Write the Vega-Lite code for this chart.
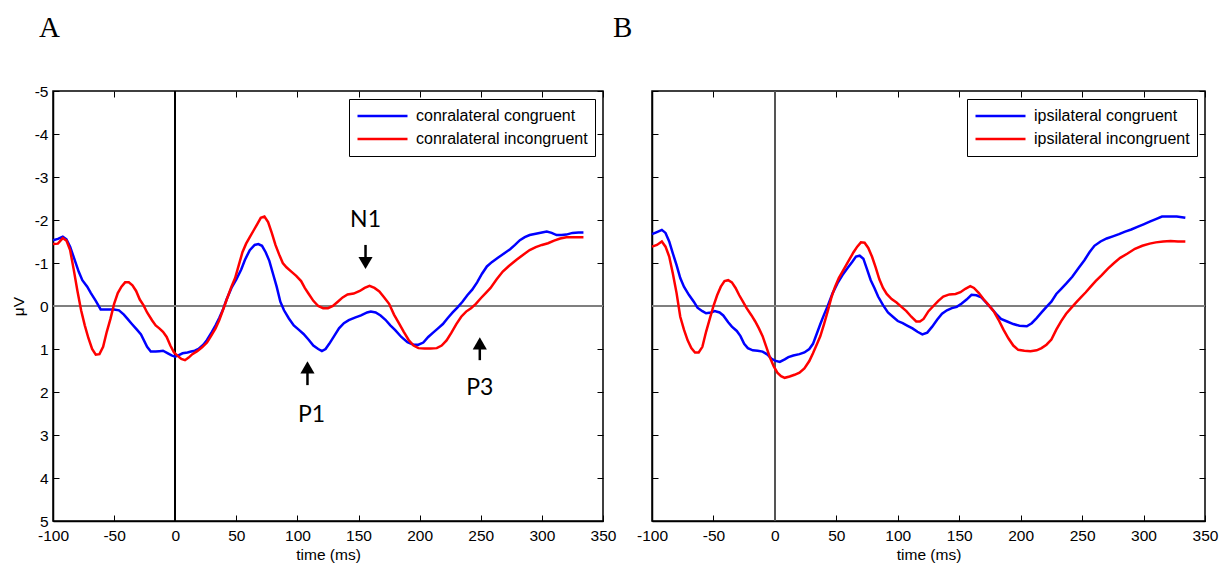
{
"$schema":"https://vega.github.io/schema/vega-lite/v6.json",
"padding":{"left":10,"top":12,"right":0,"bottom":0},
"bounds":"flush",
"spacing":49,
"config":{
 "font":"Liberation Sans",
 "view":{"stroke":"black","strokeWidth":1.5},
 "axis":{"grid":false,"domainColor":"black","domainWidth":1.5,"tickColor":"black","tickSize":-6,"tickWidth":1,"labelColor":"black","labelFont":"Liberation Sans","labelFontSize":15.5,"labelFlush":false,"labelOverlap":false,"titleFont":"Liberation Sans","titleFontSize":15.5,"titleFontWeight":"normal","titleColor":"black"}
},
"resolve":{"scale":{"color":"independent"},"legend":{"color":"independent"}},
"datasets":{
"A":[
{"c":"conralateral congruent","t":-100,"v":-1.53},{"c":"conralateral congruent","t":-96,"v":-1.56},{"c":"conralateral congruent","t":-92,"v":-1.61},{"c":"conralateral congruent","t":-89,"v":-1.55},{"c":"conralateral congruent","t":-86,"v":-1.38},{"c":"conralateral congruent","t":-82,"v":-1.05},{"c":"conralateral congruent","t":-79,"v":-0.8},{"c":"conralateral congruent","t":-76,"v":-0.6},{"c":"conralateral congruent","t":-72,"v":-0.45},{"c":"conralateral congruent","t":-69,"v":-0.3},{"c":"conralateral congruent","t":-65,"v":-0.12},{"c":"conralateral congruent","t":-61,"v":0.08},{"c":"conralateral congruent","t":-55,"v":0.08},{"c":"conralateral congruent","t":-50,"v":0.08},{"c":"conralateral congruent","t":-46,"v":0.1},{"c":"conralateral congruent","t":-42,"v":0.2},{"c":"conralateral congruent","t":-39,"v":0.3},{"c":"conralateral congruent","t":-36,"v":0.4},{"c":"conralateral congruent","t":-31,"v":0.56},{"c":"conralateral congruent","t":-28,"v":0.66},{"c":"conralateral congruent","t":-23,"v":0.95},{"c":"conralateral congruent","t":-20,"v":1.06},{"c":"conralateral congruent","t":-16,"v":1.06},{"c":"conralateral congruent","t":-13,"v":1.05},{"c":"conralateral congruent","t":-10,"v":1.04},{"c":"conralateral congruent","t":-6,"v":1.1},{"c":"conralateral congruent","t":-3,"v":1.15},{"c":"conralateral congruent","t":0,"v":1.18},{"c":"conralateral congruent","t":3,"v":1.14},{"c":"conralateral congruent","t":6,"v":1.1},{"c":"conralateral congruent","t":10,"v":1.08},{"c":"conralateral congruent","t":13,"v":1.06},{"c":"conralateral congruent","t":16,"v":1.04},{"c":"conralateral congruent","t":19,"v":1.0},{"c":"conralateral congruent","t":23,"v":0.9},{"c":"conralateral congruent","t":26,"v":0.79},{"c":"conralateral congruent","t":30,"v":0.6},{"c":"conralateral congruent","t":33,"v":0.45},{"c":"conralateral congruent","t":36,"v":0.28},{"c":"conralateral congruent","t":39,"v":0.09},{"c":"conralateral congruent","t":42,"v":-0.15},{"c":"conralateral congruent","t":46,"v":-0.42},{"c":"conralateral congruent","t":50,"v":-0.62},{"c":"conralateral congruent","t":54,"v":-0.85},{"c":"conralateral congruent","t":57,"v":-1.07},{"c":"conralateral congruent","t":61,"v":-1.3},{"c":"conralateral congruent","t":65,"v":-1.42},{"c":"conralateral congruent","t":68,"v":-1.44},{"c":"conralateral congruent","t":71,"v":-1.4},{"c":"conralateral congruent","t":74,"v":-1.25},{"c":"conralateral congruent","t":77,"v":-1.05},{"c":"conralateral congruent","t":80,"v":-0.75},{"c":"conralateral congruent","t":83,"v":-0.45},{"c":"conralateral congruent","t":86,"v":-0.1},{"c":"conralateral congruent","t":89,"v":0.1},{"c":"conralateral congruent","t":93,"v":0.29},{"c":"conralateral congruent","t":97,"v":0.45},{"c":"conralateral congruent","t":101,"v":0.55},{"c":"conralateral congruent","t":105,"v":0.65},{"c":"conralateral congruent","t":109,"v":0.78},{"c":"conralateral congruent","t":113,"v":0.92},{"c":"conralateral congruent","t":117,"v":1.0},{"c":"conralateral congruent","t":120,"v":1.05},{"c":"conralateral congruent","t":123,"v":1.0},{"c":"conralateral congruent","t":126,"v":0.88},{"c":"conralateral congruent","t":130,"v":0.7},{"c":"conralateral congruent","t":134,"v":0.52},{"c":"conralateral congruent","t":138,"v":0.4},{"c":"conralateral congruent","t":142,"v":0.33},{"c":"conralateral congruent","t":147,"v":0.27},{"c":"conralateral congruent","t":152,"v":0.22},{"c":"conralateral congruent","t":157,"v":0.15},{"c":"conralateral congruent","t":160,"v":0.13},{"c":"conralateral congruent","t":164,"v":0.15},{"c":"conralateral congruent","t":168,"v":0.22},{"c":"conralateral congruent","t":172,"v":0.32},{"c":"conralateral congruent","t":176,"v":0.45},{"c":"conralateral congruent","t":180,"v":0.56},{"c":"conralateral congruent","t":185,"v":0.72},{"c":"conralateral congruent","t":190,"v":0.84},{"c":"conralateral congruent","t":195,"v":0.9},{"c":"conralateral congruent","t":199,"v":0.9},{"c":"conralateral congruent","t":203,"v":0.85},{"c":"conralateral congruent","t":207,"v":0.72},{"c":"conralateral congruent","t":211,"v":0.62},{"c":"conralateral congruent","t":215,"v":0.52},{"c":"conralateral congruent","t":219,"v":0.42},{"c":"conralateral congruent","t":223,"v":0.28},{"c":"conralateral congruent","t":227,"v":0.15},{"c":"conralateral congruent","t":231,"v":0.03},{"c":"conralateral congruent","t":235,"v":-0.1},{"c":"conralateral congruent","t":239,"v":-0.25},{"c":"conralateral congruent","t":243,"v":-0.38},{"c":"conralateral congruent","t":247,"v":-0.55},{"c":"conralateral congruent","t":251,"v":-0.75},{"c":"conralateral congruent","t":255,"v":-0.92},{"c":"conralateral congruent","t":259,"v":-1.02},{"c":"conralateral congruent","t":264,"v":-1.12},{"c":"conralateral congruent","t":269,"v":-1.22},{"c":"conralateral congruent","t":274,"v":-1.32},{"c":"conralateral congruent","t":278,"v":-1.42},{"c":"conralateral congruent","t":282,"v":-1.53},{"c":"conralateral congruent","t":286,"v":-1.6},{"c":"conralateral congruent","t":290,"v":-1.65},{"c":"conralateral congruent","t":295,"v":-1.68},{"c":"conralateral congruent","t":300,"v":-1.71},{"c":"conralateral congruent","t":304,"v":-1.73},{"c":"conralateral congruent","t":308,"v":-1.7},{"c":"conralateral congruent","t":312,"v":-1.65},{"c":"conralateral congruent","t":316,"v":-1.65},{"c":"conralateral congruent","t":320,"v":-1.66},{"c":"conralateral congruent","t":325,"v":-1.7},{"c":"conralateral congruent","t":330,"v":-1.71},{"c":"conralateral congruent","t":334,"v":-1.71},
{"c":"conralateral incongruent","t":-100,"v":-1.44},{"c":"conralateral incongruent","t":-96,"v":-1.45},{"c":"conralateral incongruent","t":-92,"v":-1.58},{"c":"conralateral incongruent","t":-89,"v":-1.52},{"c":"conralateral incongruent","t":-86,"v":-1.3},{"c":"conralateral incongruent","t":-83,"v":-0.84},{"c":"conralateral incongruent","t":-80,"v":-0.35},{"c":"conralateral incongruent","t":-77,"v":0.1},{"c":"conralateral incongruent","t":-74,"v":0.45},{"c":"conralateral incongruent","t":-71,"v":0.75},{"c":"conralateral incongruent","t":-68,"v":1.0},{"c":"conralateral incongruent","t":-65,"v":1.13},{"c":"conralateral incongruent","t":-62,"v":1.12},{"c":"conralateral incongruent","t":-59,"v":0.95},{"c":"conralateral incongruent","t":-56,"v":0.6},{"c":"conralateral incongruent","t":-53,"v":0.3},{"c":"conralateral incongruent","t":-50,"v":-0.05},{"c":"conralateral incongruent","t":-47,"v":-0.3},{"c":"conralateral incongruent","t":-44,"v":-0.45},{"c":"conralateral incongruent","t":-41,"v":-0.55},{"c":"conralateral incongruent","t":-38,"v":-0.55},{"c":"conralateral incongruent","t":-35,"v":-0.48},{"c":"conralateral incongruent","t":-32,"v":-0.35},{"c":"conralateral incongruent","t":-29,"v":-0.15},{"c":"conralateral incongruent","t":-26,"v":-0.02},{"c":"conralateral incongruent","t":-23,"v":0.15},{"c":"conralateral incongruent","t":-19,"v":0.33},{"c":"conralateral incongruent","t":-16,"v":0.45},{"c":"conralateral incongruent","t":-13,"v":0.52},{"c":"conralateral incongruent","t":-10,"v":0.6},{"c":"conralateral incongruent","t":-7,"v":0.72},{"c":"conralateral incongruent","t":-4,"v":0.92},{"c":"conralateral incongruent","t":-1,"v":1.08},{"c":"conralateral incongruent","t":2,"v":1.16},{"c":"conralateral incongruent","t":5,"v":1.23},{"c":"conralateral incongruent","t":8,"v":1.26},{"c":"conralateral incongruent","t":11,"v":1.2},{"c":"conralateral incongruent","t":14,"v":1.12},{"c":"conralateral incongruent","t":18,"v":1.05},{"c":"conralateral incongruent","t":22,"v":0.96},{"c":"conralateral incongruent","t":26,"v":0.85},{"c":"conralateral incongruent","t":29,"v":0.71},{"c":"conralateral incongruent","t":33,"v":0.52},{"c":"conralateral incongruent","t":36,"v":0.33},{"c":"conralateral incongruent","t":39,"v":0.1},{"c":"conralateral incongruent","t":42,"v":-0.14},{"c":"conralateral incongruent","t":46,"v":-0.45},{"c":"conralateral incongruent","t":49,"v":-0.65},{"c":"conralateral incongruent","t":52,"v":-0.95},{"c":"conralateral incongruent","t":55,"v":-1.25},{"c":"conralateral incongruent","t":58,"v":-1.45},{"c":"conralateral incongruent","t":61,"v":-1.6},{"c":"conralateral incongruent","t":64,"v":-1.75},{"c":"conralateral incongruent","t":67,"v":-1.9},{"c":"conralateral incongruent","t":70,"v":-2.05},{"c":"conralateral incongruent","t":73,"v":-2.08},{"c":"conralateral incongruent","t":76,"v":-1.95},{"c":"conralateral incongruent","t":79,"v":-1.7},{"c":"conralateral incongruent","t":82,"v":-1.42},{"c":"conralateral incongruent","t":85,"v":-1.2},{"c":"conralateral incongruent","t":88,"v":-1.0},{"c":"conralateral incongruent","t":91,"v":-0.9},{"c":"conralateral incongruent","t":95,"v":-0.8},{"c":"conralateral incongruent","t":99,"v":-0.7},{"c":"conralateral incongruent","t":103,"v":-0.58},{"c":"conralateral incongruent","t":106,"v":-0.42},{"c":"conralateral incongruent","t":109,"v":-0.29},{"c":"conralateral incongruent","t":113,"v":-0.12},{"c":"conralateral incongruent","t":117,"v":0.0},{"c":"conralateral incongruent","t":121,"v":0.05},{"c":"conralateral incongruent","t":125,"v":0.05},{"c":"conralateral incongruent","t":129,"v":0.0},{"c":"conralateral incongruent","t":133,"v":-0.1},{"c":"conralateral incongruent","t":137,"v":-0.2},{"c":"conralateral incongruent","t":141,"v":-0.27},{"c":"conralateral incongruent","t":146,"v":-0.29},{"c":"conralateral incongruent","t":151,"v":-0.35},{"c":"conralateral incongruent","t":155,"v":-0.42},{"c":"conralateral incongruent","t":159,"v":-0.47},{"c":"conralateral incongruent","t":163,"v":-0.42},{"c":"conralateral incongruent","t":167,"v":-0.34},{"c":"conralateral incongruent","t":171,"v":-0.2},{"c":"conralateral incongruent","t":175,"v":-0.05},{"c":"conralateral incongruent","t":179,"v":0.2},{"c":"conralateral incongruent","t":183,"v":0.4},{"c":"conralateral incongruent","t":187,"v":0.6},{"c":"conralateral incongruent","t":191,"v":0.79},{"c":"conralateral incongruent","t":195,"v":0.92},{"c":"conralateral incongruent","t":199,"v":0.98},{"c":"conralateral incongruent","t":204,"v":0.99},{"c":"conralateral incongruent","t":209,"v":0.99},{"c":"conralateral incongruent","t":214,"v":0.98},{"c":"conralateral incongruent","t":218,"v":0.92},{"c":"conralateral incongruent","t":222,"v":0.8},{"c":"conralateral incongruent","t":226,"v":0.62},{"c":"conralateral incongruent","t":230,"v":0.42},{"c":"conralateral incongruent","t":234,"v":0.25},{"c":"conralateral incongruent","t":238,"v":0.13},{"c":"conralateral incongruent","t":242,"v":0.05},{"c":"conralateral incongruent","t":246,"v":-0.05},{"c":"conralateral incongruent","t":250,"v":-0.18},{"c":"conralateral incongruent","t":254,"v":-0.3},{"c":"conralateral incongruent","t":258,"v":-0.42},{"c":"conralateral incongruent","t":263,"v":-0.62},{"c":"conralateral incongruent","t":268,"v":-0.8},{"c":"conralateral incongruent","t":273,"v":-0.93},{"c":"conralateral incongruent","t":279,"v":-1.07},{"c":"conralateral incongruent","t":285,"v":-1.2},{"c":"conralateral incongruent","t":290,"v":-1.3},{"c":"conralateral incongruent","t":295,"v":-1.37},{"c":"conralateral incongruent","t":300,"v":-1.42},{"c":"conralateral incongruent","t":305,"v":-1.46},{"c":"conralateral incongruent","t":310,"v":-1.52},{"c":"conralateral incongruent","t":315,"v":-1.57},{"c":"conralateral incongruent","t":320,"v":-1.6},{"c":"conralateral incongruent","t":326,"v":-1.6},{"c":"conralateral incongruent","t":334,"v":-1.6}
],
"B":[
{"c":"ipsilateral congruent","t":-100,"v":-1.67},{"c":"ipsilateral congruent","t":-96,"v":-1.72},{"c":"ipsilateral congruent","t":-92,"v":-1.77},{"c":"ipsilateral congruent","t":-89,"v":-1.7},{"c":"ipsilateral congruent","t":-86,"v":-1.5},{"c":"ipsilateral congruent","t":-83,"v":-1.22},{"c":"ipsilateral congruent","t":-80,"v":-0.95},{"c":"ipsilateral congruent","t":-77,"v":-0.65},{"c":"ipsilateral congruent","t":-74,"v":-0.45},{"c":"ipsilateral congruent","t":-70,"v":-0.26},{"c":"ipsilateral congruent","t":-66,"v":-0.1},{"c":"ipsilateral congruent","t":-63,"v":0.04},{"c":"ipsilateral congruent","t":-59,"v":0.12},{"c":"ipsilateral congruent","t":-56,"v":0.17},{"c":"ipsilateral congruent","t":-52,"v":0.15},{"c":"ipsilateral congruent","t":-49,"v":0.12},{"c":"ipsilateral congruent","t":-45,"v":0.15},{"c":"ipsilateral congruent","t":-42,"v":0.22},{"c":"ipsilateral congruent","t":-38,"v":0.38},{"c":"ipsilateral congruent","t":-35,"v":0.48},{"c":"ipsilateral congruent","t":-31,"v":0.58},{"c":"ipsilateral congruent","t":-28,"v":0.7},{"c":"ipsilateral congruent","t":-25,"v":0.88},{"c":"ipsilateral congruent","t":-22,"v":0.98},{"c":"ipsilateral congruent","t":-18,"v":1.03},{"c":"ipsilateral congruent","t":-14,"v":1.04},{"c":"ipsilateral congruent","t":-10,"v":1.06},{"c":"ipsilateral congruent","t":-6,"v":1.13},{"c":"ipsilateral congruent","t":-3,"v":1.22},{"c":"ipsilateral congruent","t":0,"v":1.27},{"c":"ipsilateral congruent","t":4,"v":1.3},{"c":"ipsilateral congruent","t":8,"v":1.24},{"c":"ipsilateral congruent","t":11,"v":1.19},{"c":"ipsilateral congruent","t":15,"v":1.15},{"c":"ipsilateral congruent","t":20,"v":1.12},{"c":"ipsilateral congruent","t":24,"v":1.08},{"c":"ipsilateral congruent","t":28,"v":1.0},{"c":"ipsilateral congruent","t":31,"v":0.88},{"c":"ipsilateral congruent","t":34,"v":0.65},{"c":"ipsilateral congruent","t":37,"v":0.42},{"c":"ipsilateral congruent","t":40,"v":0.2},{"c":"ipsilateral congruent","t":43,"v":0.0},{"c":"ipsilateral congruent","t":47,"v":-0.3},{"c":"ipsilateral congruent","t":51,"v":-0.53},{"c":"ipsilateral congruent","t":55,"v":-0.72},{"c":"ipsilateral congruent","t":59,"v":-0.88},{"c":"ipsilateral congruent","t":63,"v":-1.03},{"c":"ipsilateral congruent","t":66,"v":-1.15},{"c":"ipsilateral congruent","t":69,"v":-1.17},{"c":"ipsilateral congruent","t":72,"v":-1.1},{"c":"ipsilateral congruent","t":75,"v":-0.85},{"c":"ipsilateral congruent","t":78,"v":-0.6},{"c":"ipsilateral congruent","t":81,"v":-0.42},{"c":"ipsilateral congruent","t":84,"v":-0.22},{"c":"ipsilateral congruent","t":88,"v":-0.02},{"c":"ipsilateral congruent","t":92,"v":0.15},{"c":"ipsilateral congruent","t":96,"v":0.25},{"c":"ipsilateral congruent","t":100,"v":0.35},{"c":"ipsilateral congruent","t":104,"v":0.4},{"c":"ipsilateral congruent","t":108,"v":0.46},{"c":"ipsilateral congruent","t":112,"v":0.52},{"c":"ipsilateral congruent","t":116,"v":0.6},{"c":"ipsilateral congruent","t":120,"v":0.66},{"c":"ipsilateral congruent","t":124,"v":0.62},{"c":"ipsilateral congruent","t":128,"v":0.48},{"c":"ipsilateral congruent","t":132,"v":0.32},{"c":"ipsilateral congruent","t":136,"v":0.18},{"c":"ipsilateral congruent","t":140,"v":0.1},{"c":"ipsilateral congruent","t":144,"v":0.05},{"c":"ipsilateral congruent","t":148,"v":0.02},{"c":"ipsilateral congruent","t":152,"v":-0.06},{"c":"ipsilateral congruent","t":156,"v":-0.15},{"c":"ipsilateral congruent","t":160,"v":-0.26},{"c":"ipsilateral congruent","t":164,"v":-0.25},{"c":"ipsilateral congruent","t":168,"v":-0.2},{"c":"ipsilateral congruent","t":172,"v":-0.08},{"c":"ipsilateral congruent","t":176,"v":0.05},{"c":"ipsilateral congruent","t":180,"v":0.18},{"c":"ipsilateral congruent","t":184,"v":0.3},{"c":"ipsilateral congruent","t":189,"v":0.36},{"c":"ipsilateral congruent","t":194,"v":0.42},{"c":"ipsilateral congruent","t":199,"v":0.46},{"c":"ipsilateral congruent","t":205,"v":0.47},{"c":"ipsilateral congruent","t":209,"v":0.4},{"c":"ipsilateral congruent","t":213,"v":0.28},{"c":"ipsilateral congruent","t":217,"v":0.15},{"c":"ipsilateral congruent","t":221,"v":0.02},{"c":"ipsilateral congruent","t":225,"v":-0.1},{"c":"ipsilateral congruent","t":229,"v":-0.28},{"c":"ipsilateral congruent","t":233,"v":-0.4},{"c":"ipsilateral congruent","t":237,"v":-0.52},{"c":"ipsilateral congruent","t":242,"v":-0.68},{"c":"ipsilateral congruent","t":247,"v":-0.88},{"c":"ipsilateral congruent","t":252,"v":-1.07},{"c":"ipsilateral congruent","t":256,"v":-1.25},{"c":"ipsilateral congruent","t":260,"v":-1.4},{"c":"ipsilateral congruent","t":265,"v":-1.5},{"c":"ipsilateral congruent","t":270,"v":-1.57},{"c":"ipsilateral congruent","t":275,"v":-1.62},{"c":"ipsilateral congruent","t":280,"v":-1.67},{"c":"ipsilateral congruent","t":285,"v":-1.73},{"c":"ipsilateral congruent","t":290,"v":-1.78},{"c":"ipsilateral congruent","t":295,"v":-1.84},{"c":"ipsilateral congruent","t":300,"v":-1.9},{"c":"ipsilateral congruent","t":305,"v":-1.96},{"c":"ipsilateral congruent","t":310,"v":-2.02},{"c":"ipsilateral congruent","t":315,"v":-2.08},{"c":"ipsilateral congruent","t":320,"v":-2.08},{"c":"ipsilateral congruent","t":327,"v":-2.08},{"c":"ipsilateral congruent","t":334,"v":-2.05},
{"c":"ipsilateral incongruent","t":-100,"v":-1.38},{"c":"ipsilateral incongruent","t":-96,"v":-1.42},{"c":"ipsilateral incongruent","t":-92,"v":-1.5},{"c":"ipsilateral incongruent","t":-89,"v":-1.38},{"c":"ipsilateral incongruent","t":-86,"v":-1.15},{"c":"ipsilateral incongruent","t":-83,"v":-0.75},{"c":"ipsilateral incongruent","t":-80,"v":-0.3},{"c":"ipsilateral incongruent","t":-77,"v":0.25},{"c":"ipsilateral incongruent","t":-74,"v":0.55},{"c":"ipsilateral incongruent","t":-71,"v":0.8},{"c":"ipsilateral incongruent","t":-68,"v":0.98},{"c":"ipsilateral incongruent","t":-65,"v":1.08},{"c":"ipsilateral incongruent","t":-62,"v":1.08},{"c":"ipsilateral incongruent","t":-59,"v":0.95},{"c":"ipsilateral incongruent","t":-56,"v":0.6},{"c":"ipsilateral incongruent","t":-53,"v":0.3},{"c":"ipsilateral incongruent","t":-50,"v":0.0},{"c":"ipsilateral incongruent","t":-47,"v":-0.25},{"c":"ipsilateral incongruent","t":-44,"v":-0.45},{"c":"ipsilateral incongruent","t":-41,"v":-0.58},{"c":"ipsilateral incongruent","t":-38,"v":-0.6},{"c":"ipsilateral incongruent","t":-35,"v":-0.55},{"c":"ipsilateral incongruent","t":-32,"v":-0.42},{"c":"ipsilateral incongruent","t":-29,"v":-0.25},{"c":"ipsilateral incongruent","t":-26,"v":-0.1},{"c":"ipsilateral incongruent","t":-23,"v":0.05},{"c":"ipsilateral incongruent","t":-19,"v":0.22},{"c":"ipsilateral incongruent","t":-16,"v":0.36},{"c":"ipsilateral incongruent","t":-13,"v":0.52},{"c":"ipsilateral incongruent","t":-10,"v":0.7},{"c":"ipsilateral incongruent","t":-7,"v":0.95},{"c":"ipsilateral incongruent","t":-4,"v":1.2},{"c":"ipsilateral incongruent","t":-1,"v":1.4},{"c":"ipsilateral incongruent","t":2,"v":1.55},{"c":"ipsilateral incongruent","t":5,"v":1.63},{"c":"ipsilateral incongruent","t":8,"v":1.67},{"c":"ipsilateral incongruent","t":12,"v":1.64},{"c":"ipsilateral incongruent","t":16,"v":1.6},{"c":"ipsilateral incongruent","t":20,"v":1.55},{"c":"ipsilateral incongruent","t":24,"v":1.45},{"c":"ipsilateral incongruent","t":28,"v":1.28},{"c":"ipsilateral incongruent","t":31,"v":1.1},{"c":"ipsilateral incongruent","t":34,"v":0.9},{"c":"ipsilateral incongruent","t":37,"v":0.7},{"c":"ipsilateral incongruent","t":40,"v":0.42},{"c":"ipsilateral incongruent","t":43,"v":0.12},{"c":"ipsilateral incongruent","t":46,"v":-0.2},{"c":"ipsilateral incongruent","t":49,"v":-0.45},{"c":"ipsilateral incongruent","t":52,"v":-0.65},{"c":"ipsilateral incongruent","t":55,"v":-0.8},{"c":"ipsilateral incongruent","t":58,"v":-0.95},{"c":"ipsilateral incongruent","t":61,"v":-1.1},{"c":"ipsilateral incongruent","t":64,"v":-1.25},{"c":"ipsilateral incongruent","t":67,"v":-1.38},{"c":"ipsilateral incongruent","t":70,"v":-1.48},{"c":"ipsilateral incongruent","t":73,"v":-1.47},{"c":"ipsilateral incongruent","t":76,"v":-1.35},{"c":"ipsilateral incongruent","t":79,"v":-1.15},{"c":"ipsilateral incongruent","t":82,"v":-0.9},{"c":"ipsilateral incongruent","t":85,"v":-0.62},{"c":"ipsilateral incongruent","t":88,"v":-0.42},{"c":"ipsilateral incongruent","t":91,"v":-0.28},{"c":"ipsilateral incongruent","t":95,"v":-0.16},{"c":"ipsilateral incongruent","t":99,"v":-0.08},{"c":"ipsilateral incongruent","t":103,"v":0.02},{"c":"ipsilateral incongruent","t":107,"v":0.12},{"c":"ipsilateral incongruent","t":111,"v":0.25},{"c":"ipsilateral incongruent","t":115,"v":0.36},{"c":"ipsilateral incongruent","t":118,"v":0.36},{"c":"ipsilateral incongruent","t":121,"v":0.3},{"c":"ipsilateral incongruent","t":125,"v":0.12},{"c":"ipsilateral incongruent","t":129,"v":0.0},{"c":"ipsilateral incongruent","t":133,"v":-0.12},{"c":"ipsilateral incongruent","t":137,"v":-0.22},{"c":"ipsilateral incongruent","t":142,"v":-0.27},{"c":"ipsilateral incongruent","t":147,"v":-0.28},{"c":"ipsilateral incongruent","t":151,"v":-0.32},{"c":"ipsilateral incongruent","t":155,"v":-0.4},{"c":"ipsilateral incongruent","t":159,"v":-0.46},{"c":"ipsilateral incongruent","t":162,"v":-0.42},{"c":"ipsilateral incongruent","t":166,"v":-0.3},{"c":"ipsilateral incongruent","t":170,"v":-0.15},{"c":"ipsilateral incongruent","t":174,"v":-0.02},{"c":"ipsilateral incongruent","t":178,"v":0.12},{"c":"ipsilateral incongruent","t":182,"v":0.32},{"c":"ipsilateral incongruent","t":186,"v":0.55},{"c":"ipsilateral incongruent","t":190,"v":0.75},{"c":"ipsilateral incongruent","t":194,"v":0.92},{"c":"ipsilateral incongruent","t":198,"v":1.02},{"c":"ipsilateral incongruent","t":203,"v":1.04},{"c":"ipsilateral incongruent","t":208,"v":1.05},{"c":"ipsilateral incongruent","t":213,"v":1.03},{"c":"ipsilateral incongruent","t":217,"v":0.98},{"c":"ipsilateral incongruent","t":221,"v":0.9},{"c":"ipsilateral incongruent","t":225,"v":0.78},{"c":"ipsilateral incongruent","t":229,"v":0.55},{"c":"ipsilateral incongruent","t":233,"v":0.35},{"c":"ipsilateral incongruent","t":237,"v":0.18},{"c":"ipsilateral incongruent","t":241,"v":0.05},{"c":"ipsilateral incongruent","t":245,"v":-0.08},{"c":"ipsilateral incongruent","t":249,"v":-0.2},{"c":"ipsilateral incongruent","t":253,"v":-0.32},{"c":"ipsilateral incongruent","t":257,"v":-0.45},{"c":"ipsilateral incongruent","t":261,"v":-0.58},{"c":"ipsilateral incongruent","t":266,"v":-0.72},{"c":"ipsilateral incongruent","t":271,"v":-0.87},{"c":"ipsilateral incongruent","t":276,"v":-1.0},{"c":"ipsilateral incongruent","t":281,"v":-1.12},{"c":"ipsilateral incongruent","t":287,"v":-1.22},{"c":"ipsilateral incongruent","t":293,"v":-1.33},{"c":"ipsilateral incongruent","t":299,"v":-1.4},{"c":"ipsilateral incongruent","t":305,"v":-1.45},{"c":"ipsilateral incongruent","t":310,"v":-1.48},{"c":"ipsilateral incongruent","t":316,"v":-1.5},{"c":"ipsilateral incongruent","t":322,"v":-1.51},{"c":"ipsilateral incongruent","t":328,"v":-1.5},{"c":"ipsilateral incongruent","t":334,"v":-1.5}
],
"labels":[{"label":"N1","t":155.7,"v":-2.0},{"label":"P1","t":111.5,"v":2.53},{"label":"P3","t":249.2,"v":1.91}],
"shafts":[{"t":155.7,"v1":-1.42,"v2":-1.12},{"t":108.2,"v1":1.53,"v2":1.84},{"t":249.2,"v1":0.98,"v2":1.26}],
"down":[{"t":155.7,"v":-1.0}],
"up":[{"t":108.2,"v":1.43},{"t":249.2,"v":0.87}]
},
"hconcat":[
{
 "width":550,"height":430,
 "title":{"text":"A","anchor":"start","frame":"group","dx":-14,"offset":18,"baseline":"alphabetic","font":"Liberation Serif","fontSize":29,"fontWeight":"normal","color":"black"},
 "layer":[
  {"data":{"name":"A"},"mark":{"type":"rule","color":"black","strokeWidth":1},
   "encoding":{"x":{"datum":0,"type":"quantitative","scale":{"domain":[-100,350],"nice":false},"axis":{"orient":"top","labels":false,"title":null,"domain":false,"values":[-100,-50,0,50,100,150,200,250,300,350]}}}},
  {"data":{"name":"A"},"mark":{"type":"rule","color":"#7f7f7f","strokeWidth":1.5},
   "encoding":{"y":{"datum":0,"type":"quantitative","scale":{"domain":[-5,5],"reverse":true,"nice":false},"axis":{"orient":"right","labels":false,"title":null,"domain":false,"values":[-5,-4,-3,-2,-1,0,1,2,3,4,5]}}}},
  {"data":{"name":"A"},"mark":{"type":"line","strokeWidth":2.5},
   "encoding":{
    "x":{"field":"t","type":"quantitative","scale":{"domain":[-100,350],"nice":false},"axis":{"title":"time (ms)","values":[-100,-50,0,50,100,150,200,250,300,350],"labelExpr":"'' + datum.value","labelFontSize":15.5,"titleFontSize":15.5,"labelPadding":13,"titlePadding":4}},
    "y":{"field":"v","type":"quantitative","scale":{"domain":[-5,5],"reverse":true,"nice":false},"axis":{"title":"μV","values":[-5,-4,-3,-2,-1,0,1,2,3,4,5],"labelExpr":"'' + datum.value","labelFontSize":15.5,"titleFontSize":15.5,"labelPadding":11,"titlePadding":8}},
    "color":{"field":"c","type":"nominal","scale":{"domain":["conralateral congruent","conralateral incongruent"],"range":["#0000ff","#ff0000"]},
     "legend":{"orient":"top-right","offset":8,"title":null,"strokeColor":"black","fillColor":"white","padding":7,"symbolType":"stroke","symbolSize":2500,"symbolStrokeWidth":2.5,"labelFont":"Liberation Sans","labelFontSize":16,"labelColor":"black","labelOffset":7,"clipHeight":20,"rowPadding":3,"labelLimit":400}}
   }},
  {"data":{"name":"shafts"},"mark":{"type":"rule","color":"black","strokeWidth":2.5},
   "encoding":{"x":{"field":"t","type":"quantitative","axis":null},"y":{"field":"v1","type":"quantitative","axis":null},"y2":{"field":"v2"}}},
  {"data":{"name":"down"},"mark":{"type":"point","shape":"triangle-down","filled":true,"color":"black","size":200,"opacity":1},
   "encoding":{"x":{"field":"t","type":"quantitative","axis":null},"y":{"field":"v","type":"quantitative","axis":null}}},
  {"data":{"name":"up"},"mark":{"type":"point","shape":"triangle-up","filled":true,"color":"black","size":200,"opacity":1},
   "encoding":{"x":{"field":"t","type":"quantitative","axis":null},"y":{"field":"v","type":"quantitative","axis":null}}},
  {"data":{"name":"labels"},"mark":{"type":"text","font":"Lato","fontSize":23,"align":"center","baseline":"middle","color":"black"},
   "encoding":{"x":{"field":"t","type":"quantitative","axis":null},"y":{"field":"v","type":"quantitative","axis":null},"text":{"field":"label"}}}
 ],
 "resolve":{"axis":{"x":"independent","y":"independent"}}
},
{
 "width":553,"height":430,
 "title":{"text":"B","anchor":"start","frame":"group","dx":-39,"offset":25,"baseline":"alphabetic","font":"Liberation Serif","fontSize":29,"fontWeight":"normal","color":"black"},
 "layer":[
  {"data":{"name":"B"},"mark":{"type":"rule","color":"#555555","strokeWidth":1},
   "encoding":{"x":{"datum":0,"type":"quantitative","scale":{"domain":[-100,350],"nice":false},"axis":{"orient":"top","labels":false,"title":null,"domain":false,"values":[-100,-50,0,50,100,150,200,250,300,350]}}}},
  {"data":{"name":"B"},"mark":{"type":"rule","color":"#7f7f7f","strokeWidth":1.5},
   "encoding":{"y":{"datum":0,"type":"quantitative","scale":{"domain":[-5,5],"reverse":true,"nice":false},"axis":{"orient":"right","labels":false,"title":null,"domain":false,"values":[-5,-4,-3,-2,-1,0,1,2,3,4,5]}}}},
  {"data":{"name":"B"},"mark":{"type":"line","strokeWidth":2.5},
   "encoding":{
    "x":{"field":"t","type":"quantitative","scale":{"domain":[-100,350],"nice":false},"axis":{"title":"time (ms)","values":[-100,-50,0,50,100,150,200,250,300,350],"labelExpr":"'' + datum.value","labelFontSize":15.5,"titleFontSize":15.5,"labelPadding":13,"titlePadding":4}},
    "y":{"field":"v","type":"quantitative","scale":{"domain":[-5,5],"reverse":true,"nice":false},"axis":{"title":null,"labels":false,"values":[-5,-4,-3,-2,-1,0,1,2,3,4,5]}},
    "color":{"field":"c","type":"nominal","scale":{"domain":["ipsilateral congruent","ipsilateral incongruent"],"range":["#0000ff","#ff0000"]},
     "legend":{"orient":"top-right","offset":8,"title":null,"strokeColor":"black","fillColor":"white","padding":7,"symbolType":"stroke","symbolSize":2500,"symbolStrokeWidth":2.5,"labelFont":"Liberation Sans","labelFontSize":16,"labelColor":"black","labelOffset":7,"clipHeight":20,"rowPadding":3,"labelLimit":400}}
   }}
 ],
 "resolve":{"axis":{"x":"independent","y":"independent"}}
}
]
}
